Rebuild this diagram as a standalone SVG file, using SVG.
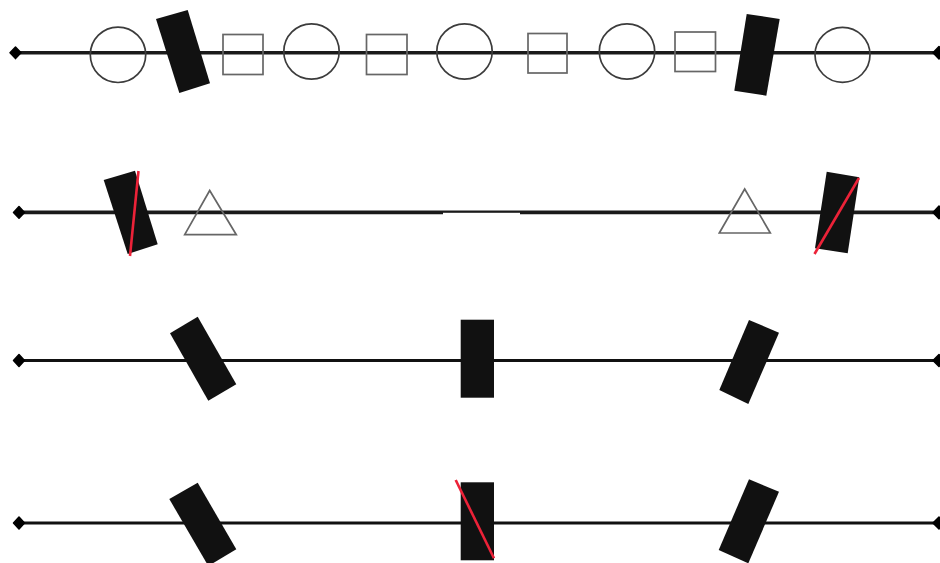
<svg xmlns="http://www.w3.org/2000/svg" width="940" height="563" viewBox="0 0 940 563">
<style>
.w{stroke:#111;stroke-width:3;fill:none}
.t{stroke:#1a1a1a;stroke-width:3.6;fill:none}
.d{fill:#000;stroke:#000;stroke-width:1.5;stroke-linejoin:round}
.b{fill:#111}
.o{fill:none;stroke:#3c3c3c;stroke-width:1.7}
.s{fill:none;stroke:#666;stroke-width:1.7}
.r{stroke:#ec2238;stroke-width:2.6;fill:none}
</style>
<rect width="940" height="563" fill="#fff"/>
<g id="connectors">
<line class="t" x1="16" y1="52.800" x2="940" y2="52.800"/>
<line class="t" x1="19" y1="212.400" x2="940" y2="212.400"/>
<line class="w" x1="19" y1="360.500" x2="940" y2="360.500"/>
<line class="w" x1="19" y1="523" x2="940" y2="523"/>
<rect x="443" y="212.800" width="77" height="3.500" fill="#fff"/>
</g>
<g id="row1">
<path id="end1a" class="d" d="M15.500 47L21 52.800L15.500 58.600L10 52.800Z"/>
<path id="end1b" class="d" d="M939 46.500L945 52.800L939 59L933 52.800Z"/>
<circle id="c1" class="o" cx="118" cy="54.800" r="27.700"/>
<path id="m1" class="b" d="M156 19L187.700 10L210 83.300L179.300 93Z"/>
<rect id="s1" class="s" x="223" y="34.500" width="40" height="40"/>
<circle id="c2" class="o" cx="311.500" cy="51.500" r="27.700"/>
<rect id="s2" class="s" x="366.500" y="34.500" width="40.500" height="40"/>
<circle id="c3" class="o" cx="464.500" cy="51.500" r="27.700"/>
<rect id="s3" class="s" x="528" y="33.500" width="39" height="39.500"/>
<circle id="c4" class="o" cx="627" cy="51.500" r="27.700"/>
<rect id="s4" class="s" x="675" y="32" width="40.500" height="39.500"/>
<path id="m2" class="b" d="M746.700 14L779.700 19L766.300 95.700L734.300 90.700Z"/>
<circle id="c5" class="o" cx="842.500" cy="54.800" r="27.500"/>
</g>
<g id="row2">
<path id="end2a" class="d" d="M19 206.500L24.500 212.400L19 218.300L13.500 212.400Z"/>
<path id="end2b" class="d" d="M939 206L945 212.400L939 218.800L933 212.400Z"/>
<path id="m3" class="b" d="M103.700 180L135 170.700L157.700 244.300L127.700 254Z"/>
<line id="r1" class="r" x1="138.500" y1="171" x2="130" y2="256"/>
<path id="t1" class="s" d="M209.700 190.500L184.700 234.700H236.300Z"/>
<path id="t2" class="s" d="M744.700 189L719.300 233H770.300Z"/>
<path id="m4" class="b" d="M826.700 171.700L859.300 177.300L847.700 253.300L815 248.300Z"/>
<line id="r2" class="r" x1="859" y1="178" x2="814.500" y2="254"/>
</g>
<g id="row3">
<path id="end3a" class="d" d="M19 354.500L24.500 360.500L19 366.500L13.500 360.500Z"/>
<path id="end3b" class="d" d="M939 354.500L945 360.500L939 366.500L933 360.500Z"/>
<path id="m5" class="b" d="M170 333.300L197.700 316.700L236.300 384.300L208.300 400.700Z"/>
<rect id="m6" class="b" x="460.700" y="319.700" width="33.300" height="78"/>
<path id="m7" class="b" d="M749 320L779 332.700L748.300 404L719.300 390Z"/>
</g>
<g id="row4">
<path id="end4a" class="d" d="M19 517L24.500 523L19 529L13.500 523Z"/>
<path id="end4b" class="d" d="M939 517L945 523L939 529L933 523Z"/>
<path id="m8" class="b" d="M169.300 499L197.700 482.700L236.300 549.300L208.300 566Z"/>
<rect id="m9" class="b" x="460.700" y="482.300" width="33.300" height="78"/>
<line id="r3" class="r" x1="455.700" y1="480" x2="494" y2="558.300"/>
<path id="m10" class="b" d="M749 479.300L779 491.700L748.300 563.300L718.700 550Z"/>
</g>
</svg>
